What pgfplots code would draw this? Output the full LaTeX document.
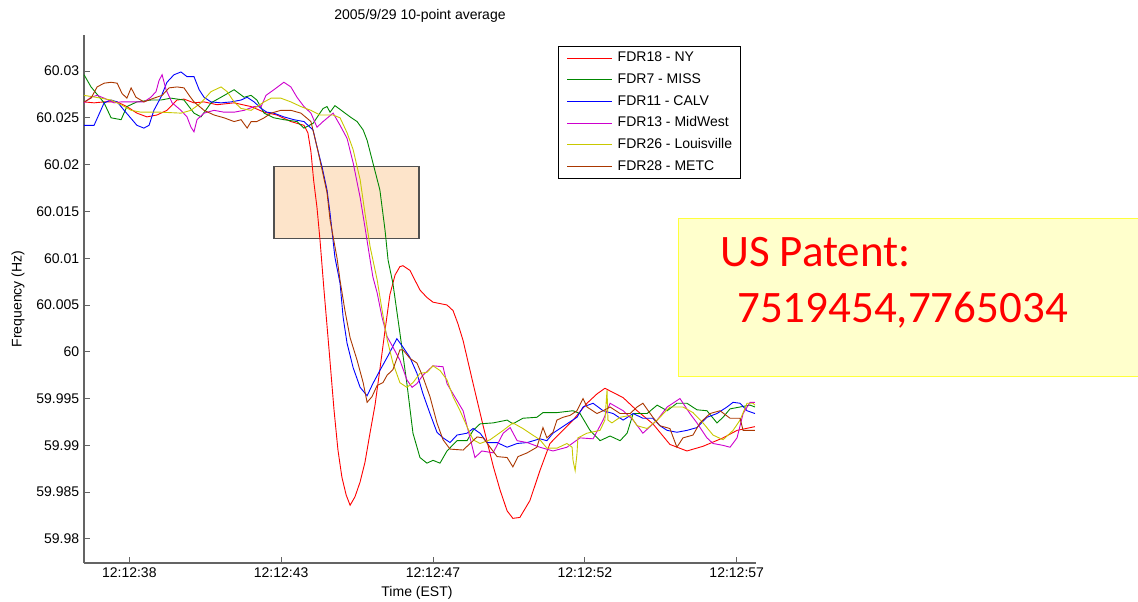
\documentclass[border=0pt]{standalone}
\usepackage{fontspec}
\setmainfont{Liberation Sans}
\newfontfamily\patentfont{Carlito}
\usepackage{pgfplots}
\pgfplotsset{compat=1.18}
\definecolor{cNY}{RGB}{255,0,0}
\definecolor{cMISS}{RGB}{0,135,0}
\definecolor{cCALV}{RGB}{0,0,255}
\definecolor{cMW}{RGB}{205,0,205}
\definecolor{cLOU}{RGB}{200,200,0}
\definecolor{cMETC}{RGB}{170,55,0}
\definecolor{axgray}{RGB}{100,100,100}
\definecolor{boxfill}{RGB}{253,228,202}
\definecolor{boxdraw}{RGB}{80,80,80}
\definecolor{patfill}{RGB}{255,255,204}
\definecolor{patdraw}{RGB}{255,255,60}
\begin{document}
\fontsize{14bp}{16bp}\selectfont
\begin{tikzpicture}
\useasboundingbox (-84bp,-39bp) rectangle (1054bp,563bp);
\begin{axis}[
  at={(0,0)}, anchor=south west,
  scale only axis, width=672bp, height=528bp,
  xmin=36.508, xmax=58.635, ymin=59.97743, ymax=60.03385,
  axis x line=bottom, axis y line=left,
  axis line style={draw=axgray, line width=1.3bp, -},
  every outer x axis line/.append style={-},
  every outer y axis line/.append style={-},
  tick align=inside, major tick length=6bp,
  tick style={draw=axgray, line width=0.9bp},
  xtick={38,43,48,53,58},
  xticklabels={12:12:38,12:12:43,12:12:47,12:12:52,12:12:57},
  ytick={59.98,59.985,59.99,59.995,60,60.005,60.01,60.015,60.02,60.025,60.03},
  yticklabels={59.98,59.985,59.99,59.995,60,60.005,60.01,60.015,60.02,60.025,60.03},
  tick label style={text=black},
  title={2005/9/29 10-point average},
  every axis title/.style={at={(axis description cs:0.5,1.036)}, anchor=center},
  xlabel={Time (EST)},
  every axis x label/.style={at={(axis description cs:0.4955,-0.0568)}, anchor=center},
  ylabel={Frequency (Hz)},
  every axis y label/.style={at={(axis description cs:-0.0982,0.5)}, rotate=90, anchor=center},
  legend style={at={(axis description cs:0.7054,0.979)}, anchor=north west,
    draw=black, line width=0.6bp, fill=white,
    inner xsep=8.5bp, inner ysep=5bp,
    nodes={inner sep=0bp, text height=10.5bp, text depth=3bp},
    row sep=8.2bp, cells={anchor=west},
    /tikz/every odd column/.append style={column sep=5bp}},
  legend image code/.code={\draw[line width=0.9bp,#1] (0bp,0bp) -- (45bp,0bp);},
  every axis plot/.append style={line width=0.9bp},
]
\draw[boxdraw, fill=boxfill, line width=1.3bp] (axis cs:42.76,60.0121) rectangle (axis cs:47.54,60.0198);
\addplot[draw=cNY] coordinates {(36.51,60.0267)(36.84,60.0266)(37.17,60.0267)(37.60,60.0267)(37.92,60.0262)(38.25,60.0255)(38.58,60.0251)(38.91,60.0253)(39.24,60.0258)(39.57,60.0269)(39.80,60.0270)(40.13,60.0266)(40.46,60.0267)(40.89,60.0264)(41.45,60.0266)(42.01,60.0262)(42.44,60.0256)(42.86,60.0253)(43.32,60.0246)(43.75,60.0242)(43.88,60.0234)(43.98,60.0214)(44.07,60.0183)(44.18,60.0154)(44.28,60.0119)(44.41,60.0066)(44.58,60.0001)(44.74,59.9938)(44.87,59.9895)(45.00,59.9866)(45.14,59.9847)(45.27,59.9836)(45.43,59.9845)(45.60,59.9861)(45.76,59.9882)(45.93,59.9914)(46.09,59.9943)(46.25,59.9981)(46.42,60.0023)(46.58,60.0061)(46.75,60.0082)(46.91,60.0091)(47.01,60.0092)(47.24,60.0087)(47.57,60.0066)(47.80,60.0058)(48.00,60.0053)(48.46,60.0050)(48.66,60.0044)(48.82,60.0030)(48.99,60.0012)(49.32,59.9966)(49.65,59.9921)(49.98,59.9878)(50.21,59.9852)(50.44,59.9830)(50.63,59.9822)(50.86,59.9823)(51.19,59.9841)(51.52,59.9873)(51.85,59.9902)(52.18,59.9913)(52.61,59.9927)(53.07,59.9945)(53.40,59.9955)(53.66,59.9961)(54.26,59.9951)(54.72,59.9937)(55.24,59.9923)(55.80,59.9901)(56.36,59.9894)(56.89,59.9899)(57.55,59.9908)(58.01,59.9916)(58.60,59.9920)};
\addlegendentry{FDR18 - NY}
\addplot[draw=cMISS] coordinates {(36.51,60.0296)(36.74,60.0283)(37.17,60.0266)(37.40,60.0250)(37.73,60.0248)(37.92,60.0262)(38.25,60.0267)(38.71,60.0269)(39.04,60.0269)(39.37,60.0271)(39.80,60.0269)(40.13,60.0255)(40.36,60.0251)(40.69,60.0266)(41.02,60.0272)(41.45,60.0280)(41.78,60.0272)(42.01,60.0274)(42.20,60.0269)(42.44,60.0255)(42.76,60.0250)(43.09,60.0248)(43.52,60.0246)(43.75,60.0239)(44.05,60.0244)(44.38,60.0260)(44.51,60.0262)(44.61,60.0256)(44.77,60.0263)(44.94,60.0259)(45.27,60.0251)(45.50,60.0246)(45.70,60.0237)(45.83,60.0226)(46.02,60.0202)(46.25,60.0173)(46.42,60.0130)(46.52,60.0098)(46.68,60.0073)(46.91,60.0020)(47.14,59.9966)(47.34,59.9913)(47.57,59.9887)(47.80,59.9881)(48.00,59.9884)(48.23,59.9881)(48.46,59.9894)(48.79,59.9905)(49.12,59.9905)(49.32,59.9916)(49.55,59.9923)(49.98,59.9924)(50.44,59.9927)(50.63,59.9923)(50.96,59.9929)(51.42,59.9930)(51.62,59.9935)(52.08,59.9935)(52.61,59.9937)(52.84,59.9934)(53.17,59.9916)(53.50,59.9905)(53.83,59.9910)(54.16,59.9905)(54.39,59.9913)(54.59,59.9934)(55.05,59.9934)(55.38,59.9943)(55.71,59.9937)(56.03,59.9945)(56.36,59.9945)(56.69,59.9938)(57.02,59.9937)(57.35,59.9924)(57.55,59.9930)(57.78,59.9939)(58.11,59.9941)(58.44,59.9943)(58.60,59.9941)};
\addlegendentry{FDR7 - MISS}
\addplot[draw=cCALV] coordinates {(36.51,60.0242)(36.84,60.0242)(37.17,60.0266)(37.40,60.0269)(37.60,60.0267)(37.83,60.0258)(38.25,60.0242)(38.48,60.0239)(38.65,60.0242)(38.81,60.0258)(39.04,60.0272)(39.24,60.0288)(39.47,60.0296)(39.70,60.0299)(39.90,60.0294)(40.13,60.0294)(40.30,60.0280)(40.46,60.0272)(40.69,60.0267)(41.02,60.0266)(41.35,60.0267)(41.68,60.0269)(41.88,60.0272)(42.11,60.0267)(42.34,60.0260)(42.53,60.0256)(42.76,60.0255)(43.09,60.0251)(43.42,60.0248)(43.75,60.0246)(43.95,60.0240)(44.05,60.0237)(44.18,60.0219)(44.35,60.0197)(44.51,60.0173)(44.61,60.0148)(44.77,60.0101)(44.94,60.0073)(45.04,60.0037)(45.17,60.0009)(45.37,59.9983)(45.60,59.9962)(45.83,59.9953)(46.02,59.9966)(46.25,59.9980)(46.49,59.9994)(46.81,60.0014)(47.01,60.0005)(47.24,59.9994)(47.47,59.9977)(47.67,59.9955)(47.90,59.9934)(48.13,59.9914)(48.33,59.9908)(48.56,59.9903)(48.79,59.9911)(49.12,59.9913)(49.32,59.9918)(49.55,59.9913)(49.78,59.9903)(50.11,59.9903)(50.44,59.9898)(50.77,59.9902)(51.10,59.9903)(51.52,59.9907)(51.75,59.9905)(51.95,59.9913)(52.18,59.9918)(52.41,59.9923)(52.74,59.9930)(52.94,59.9941)(53.27,59.9945)(53.60,59.9937)(53.93,59.9934)(54.26,59.9927)(54.59,59.9934)(54.91,59.9929)(55.24,59.9929)(55.47,59.9921)(55.71,59.9916)(56.03,59.9914)(56.36,59.9916)(56.69,59.9919)(57.02,59.9930)(57.35,59.9934)(57.68,59.9941)(57.88,59.9946)(58.11,59.9945)(58.34,59.9937)(58.60,59.9934)};
\addlegendentry{FDR11 - CALV}
\addplot[draw=cMW] coordinates {(36.51,60.0266)(36.74,60.0272)(36.94,60.0274)(37.17,60.0271)(37.50,60.0266)(37.73,60.0267)(38.06,60.0267)(38.48,60.0267)(38.71,60.0272)(38.88,60.0278)(38.98,60.0290)(39.08,60.0296)(39.21,60.0280)(39.41,60.0266)(39.70,60.0258)(39.90,60.0251)(40.03,60.0240)(40.13,60.0235)(40.23,60.0248)(40.46,60.0255)(40.79,60.0258)(41.12,60.0256)(41.45,60.0256)(41.78,60.0258)(42.11,60.0262)(42.34,60.0262)(42.50,60.0274)(42.76,60.0280)(43.09,60.0288)(43.32,60.0283)(43.52,60.0272)(43.75,60.0262)(43.98,60.0255)(44.18,60.0240)(44.38,60.0246)(44.71,60.0255)(44.94,60.0242)(45.17,60.0228)(45.37,60.0202)(45.60,60.0165)(45.76,60.0133)(45.93,60.0098)(46.02,60.0080)(46.16,60.0063)(46.32,60.0037)(46.49,60.0016)(46.68,60.0005)(46.91,59.9991)(47.14,59.9970)(47.31,59.9962)(47.47,59.9966)(47.67,59.9975)(48.00,59.9985)(48.33,59.9984)(48.46,59.9966)(48.66,59.9955)(48.99,59.9937)(49.22,59.9908)(49.38,59.9887)(49.61,59.9894)(49.98,59.9892)(50.31,59.9913)(50.54,59.9919)(50.77,59.9905)(51.10,59.9903)(51.52,59.9898)(51.95,59.9894)(52.41,59.9898)(52.84,59.9908)(53.27,59.9907)(53.60,59.9927)(53.83,59.9945)(54.26,59.9937)(54.59,59.9927)(54.91,59.9913)(55.38,59.9927)(55.71,59.9941)(56.13,59.9950)(56.46,59.9934)(56.69,59.9924)(57.02,59.9908)(57.22,59.9902)(57.55,59.9900)(57.78,59.9898)(58.01,59.9908)(58.21,59.9934)(58.44,59.9946)(58.60,59.9946)};
\addlegendentry{FDR13 - MidWest}
\addplot[draw=cLOU] coordinates {(36.51,60.0274)(37.07,60.0271)(37.40,60.0269)(37.73,60.0264)(38.06,60.0258)(38.39,60.0256)(39.04,60.0256)(39.70,60.0255)(40.03,60.0258)(40.36,60.0266)(40.69,60.0278)(41.02,60.0283)(41.22,60.0278)(41.45,60.0267)(41.68,60.0260)(42.01,60.0258)(42.20,60.0262)(42.44,60.0267)(42.67,60.0271)(42.99,60.0271)(43.32,60.0267)(43.65,60.0262)(43.98,60.0258)(44.28,60.0253)(44.71,60.0253)(44.94,60.0250)(45.17,60.0234)(45.37,60.0216)(45.60,60.0184)(45.76,60.0148)(45.93,60.0112)(46.16,60.0077)(46.32,60.0045)(46.49,60.0013)(46.68,59.9988)(46.91,59.9967)(47.14,59.9962)(47.34,59.9967)(47.57,59.9977)(47.80,59.9978)(48.00,59.9985)(48.23,59.9980)(48.46,59.9970)(48.66,59.9952)(48.89,59.9937)(49.12,59.9920)(49.32,59.9906)(49.55,59.9902)(49.88,59.9906)(50.31,59.9916)(50.63,59.9924)(50.96,59.9918)(51.19,59.9913)(51.52,59.9906)(51.75,59.9897)(52.08,59.9897)(52.41,59.9902)(52.58,59.9898)(52.61,59.9884)(52.68,59.9873)(52.74,59.9891)(52.77,59.9908)(53.07,59.9913)(53.50,59.9916)(53.66,59.9927)(53.73,59.9959)(53.76,59.9927)(53.89,59.9924)(54.16,59.9930)(54.49,59.9932)(54.72,59.9921)(55.05,59.9918)(55.38,59.9927)(55.80,59.9941)(56.23,59.9941)(56.56,59.9935)(56.89,59.9924)(57.22,59.9911)(57.55,59.9906)(57.88,59.9916)(58.11,59.9927)(58.34,59.9945)(58.54,59.9945)(58.60,59.9943)};
\addlegendentry{FDR26 - Louisville}
\addplot[draw=cMETC] coordinates {(36.51,60.0267)(36.74,60.0271)(36.94,60.0283)(37.17,60.0287)(37.40,60.0288)(37.60,60.0287)(37.76,60.0276)(37.92,60.0271)(38.06,60.0282)(38.22,60.0272)(38.48,60.0267)(38.81,60.0271)(39.08,60.0274)(39.31,60.0282)(39.57,60.0283)(39.80,60.0282)(39.97,60.0274)(40.13,60.0267)(40.46,60.0258)(40.79,60.0253)(41.12,60.0250)(41.45,60.0246)(41.68,60.0248)(41.88,60.0239)(42.01,60.0246)(42.20,60.0246)(42.44,60.0250)(42.67,60.0255)(42.99,60.0258)(43.32,60.0258)(43.65,60.0255)(43.98,60.0246)(44.18,60.0219)(44.35,60.0194)(44.51,60.0170)(44.61,60.0141)(44.84,60.0100)(44.94,60.0076)(45.10,60.0044)(45.27,60.0015)(45.50,59.9991)(45.70,59.9967)(45.83,59.9946)(45.99,59.9952)(46.16,59.9964)(46.35,59.9967)(46.49,59.9975)(46.68,59.9981)(46.91,60.0002)(47.01,60.0002)(47.24,59.9993)(47.47,59.9988)(47.67,59.9973)(47.90,59.9952)(48.13,59.9924)(48.33,59.9906)(48.56,59.9896)(48.99,59.9895)(49.22,59.9902)(49.45,59.9909)(49.65,59.9908)(49.88,59.9898)(50.11,59.9888)(50.44,59.9887)(50.63,59.9877)(50.80,59.9888)(51.10,59.9892)(51.42,59.9898)(51.62,59.9919)(51.75,59.9908)(51.95,59.9914)(52.08,59.9927)(52.28,59.9930)(52.51,59.9932)(52.74,59.9937)(52.94,59.9950)(53.07,59.9941)(53.40,59.9934)(53.60,59.9937)(53.83,59.9941)(54.16,59.9934)(54.49,59.9934)(54.72,59.9941)(54.91,59.9945)(55.24,59.9930)(55.47,59.9921)(55.80,59.9918)(56.03,59.9898)(56.23,59.9908)(56.56,59.9911)(56.79,59.9924)(57.12,59.9934)(57.45,59.9937)(57.78,59.9929)(58.11,59.9929)(58.21,59.9916)(58.60,59.9916)};
\addlegendentry{FDR28 - METC}
\end{axis}
\fill[patfill] (594bp,186bp) rectangle (1070bp,344bp);
\draw[patdraw, line width=1bp] (1070bp,344bp) -- (594bp,344bp) -- (594bp,186bp) -- (1070bp,186bp);
\node[anchor=base west, inner sep=0pt, text=cNY, font=\patentfont\fontsize{45bp}{49bp}\selectfont] at (636bp,296bp) {US Patent:};
\node[anchor=base west, inner sep=0pt, text=cNY, font=\patentfont\fontsize{45bp}{49bp}\selectfont] at (653bp,240bp) {7519454,7765034};
\end{tikzpicture}
\end{document}
